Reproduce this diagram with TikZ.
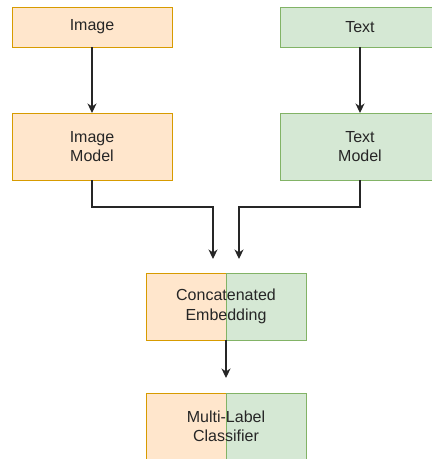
\documentclass[tikz,border=0pt]{standalone}
\usepackage{fontspec}
\setmainfont{Liberation Sans}
\usepackage{tikz}
\usetikzlibrary{arrows.meta,positioning,calc,backgrounds}

\definecolor{imgfill}{HTML}{FFE6CC}
\definecolor{imgline}{HTML}{D79B00}
\definecolor{txtfill}{HTML}{D5E8D4}
\definecolor{txtline}{HTML}{82B366}

\begin{document}
\begin{tikzpicture}[x=1pt, y=-1pt,
    box/.style={minimum width=160pt, inner sep=0pt, outer sep=0pt, line width=1pt,
      align=center, text=black!85, font=\fontsize{16}{19.5}\selectfont},
    imgbox/.style={box, fill=imgfill, draw=imgline},
    txtbox/.style={box, fill=txtfill, draw=txtline},
    flow/.style={-{Stealth[length=9.5pt, width=9pt, inset=3pt]}, line width=1.1pt, black!85}]
  % Canvas
  \useasboundingbox (0,0) rectangle (432,459);
  \clip (0,0) rectangle (432,459);

  % Inputs
  \node[imgbox, minimum height=40pt] (image) at (92,27) {Image};
  \node[txtbox, minimum height=40pt] (text) at (360,27) {Text};

  % Encoders
  \node[imgbox, minimum height=67pt] (imagemodel) at (92,146.5) {Image\\Model};
  \node[txtbox, minimum height=67pt] (textmodel) at (360,146.5) {Text\\Model};

  % Fusion and head (two-colour boxes)
  \node[box, minimum height=67pt] (concat) at (226,306.5) {Concatenated\\Embedding};
  \node[box, minimum height=67pt] (classifier) at (226,426.5) {Multi-Label\\Classifier};
  \begin{scope}[on background layer]
    \foreach \n in {concat, classifier} {
      \draw[fill=imgfill, draw=imgline, line width=1pt] (\n.north west) rectangle (\n.south);
      \draw[fill=txtfill, draw=txtline, line width=1pt] (\n.north) rectangle (\n.south east);
    }
  \end{scope}

  % Arrow ends above the lower boxes
  \coordinate (inimage) at (213,259);
  \coordinate (intext) at (239,259);
  \coordinate (inhead) at (226,378);

  % Connectors
  \draw[flow] (image) -- (imagemodel);
  \draw[flow] (text) -- (textmodel);
  \draw[flow] (imagemodel.south) -- ++(0,27) -| (inimage);
  \draw[flow] (textmodel.south) -- ++(0,27) -| (intext);
  \draw[flow] (concat.south) -- (inhead);
\end{tikzpicture}
\end{document}
